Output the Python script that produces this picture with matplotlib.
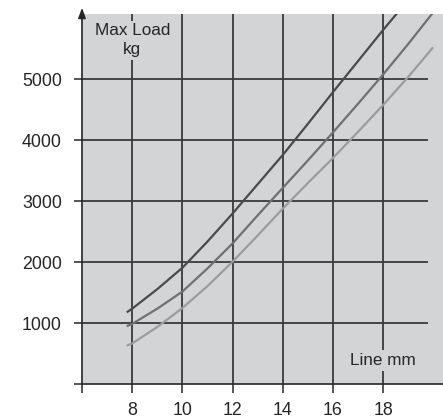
import matplotlib
matplotlib.use("Agg")
import matplotlib.pyplot as plt

# line diameter (mm) and max load (kg)
dark_mm = [7.82, 8, 9, 10, 11, 12, 13, 14, 15, 16, 17, 18, 18.57]
dark_kg = [1190, 1240, 1560, 1910, 2340, 2800, 3280, 3760, 4270, 4790, 5300, 5810, 6090]

mid_mm = [7.82, 8, 9, 10, 11, 12, 13, 14, 15, 16, 17, 18, 19, 19.96]
mid_kg = [960, 990, 1240, 1520, 1900, 2310, 2770, 3220, 3670, 4130, 4600, 5080, 5580, 6080]

light_mm = [7.82, 8, 9, 10, 11, 12, 13, 14, 15, 16, 17, 18, 19, 19.96]
light_kg = [640, 670, 940, 1250, 1610, 2010, 2440, 2880, 3300, 3710, 4140, 4580, 5040, 5510]

x_ticks = [6, 8, 10, 12, 14, 16, 18]
x_labels = ["", "8", "10", "12", "14", "16", "18"]
y_ticks = [0, 1000, 2000, 3000, 4000, 5000]
y_labels = ["", "1000", "2000", "3000", "4000", "5000"]

bg = "#d3d4d6"
ink = "#262626"
plt.rcParams["font.family"] = ["Liberation Sans", "DejaVu Sans"]

fig = plt.figure(figsize=(4.43, 4.18), dpi=100)
ax = fig.add_axes([82 / 443, (418 - 384.3) / 418, (443 - 82) / 443, (384.3 - 14) / 418])
ax.set_facecolor(bg)
ax.set_xlim(6, 6 + 361 / 25.1)
ax.set_ylim(0, 6070)

# grid
ax.vlines(x_ticks[1:], 0, 6070, color="#3a3a3a", lw=1.3, zorder=1)
ax.hlines(y_ticks[1:], 6, 19.8, color="#3a3a3a", lw=1.3, zorder=1)

# curves
ax.plot(dark_mm, dark_kg, color="#4a4a4a", lw=1.6, zorder=3)
ax.plot(mid_mm, mid_kg, color="#707070", lw=1.6, zorder=3)
ax.plot(light_mm, light_kg, color="#9c9c9c", lw=1.6, zorder=3)

# axis labels sitting on the grid
ax.text(8, 5640, "Max Load\nkg", ha="center", va="center", fontsize=12.3,
        color=ink, linespacing=1.3, zorder=4,
        bbox=dict(facecolor=bg, edgecolor="none", pad=2))
ax.text(18, 390, "Line mm", ha="center", va="center", fontsize=12.3,
        color=ink, zorder=4,
        bbox=dict(facecolor=bg, edgecolor="none", pad=2.5))

ax.set_xticks(x_ticks)
ax.set_xticklabels(x_labels)
ax.set_yticks(y_ticks)
ax.set_yticklabels(y_labels)
ax.tick_params(axis="x", direction="out", length=6.5, width=1.1, color=ink,
               labelsize=12.8, labelcolor=ink, pad=6.5)
ax.tick_params(axis="y", direction="out", length=6, width=1.1, color=ink,
               labelsize=12.8, labelcolor=ink, pad=8.5)

for side in ["top", "right", "left"]:
    ax.spines[side].set_visible(False)
ax.spines["bottom"].set_color(ink)
ax.spines["bottom"].set_linewidth(1.2)

# y axis with arrow head
ax.annotate("", xy=(0, 1.017), xycoords="axes fraction",
            xytext=(0, 0), textcoords="axes fraction",
            arrowprops=dict(arrowstyle="-|>,head_length=0.6,head_width=0.22",
                            color=ink, lw=1.2, shrinkA=0, shrinkB=0),
            annotation_clip=False)

fig.savefig("out.png", dpi=100)
